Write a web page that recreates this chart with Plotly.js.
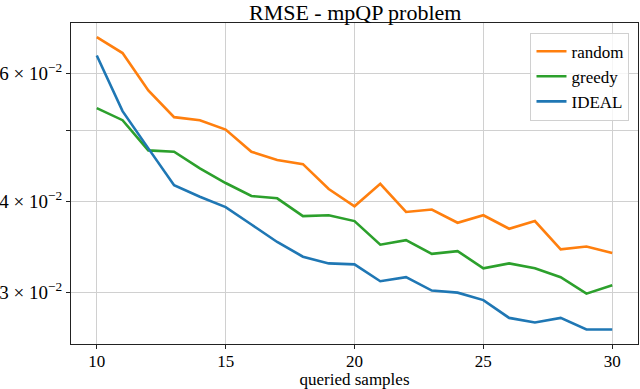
<!DOCTYPE html>
<html>
<head>
<meta charset="utf-8">
<script src="https://cdn.plot.ly/plotly-3.0.1.min.js"></script>
<style>
  html, body { margin: 0; padding: 0; background: #fff; }
  #chart { width: 640px; height: 389px; }
</style>
</head>
<body>
<div id="chart"></div>
<script>
// queried samples on the x axis
const samples = [10, 11, 12, 13, 14, 15, 16, 17, 18, 19, 20, 21, 22, 23, 24, 25, 26, 27, 28, 29, 30];

// RMSE values
const randomRmse = [0.0672, 0.0639, 0.0568, 0.0522, 0.0517, 0.0502, 0.0468, 0.0456, 0.0450, 0.0416, 0.0394,
                    0.0423, 0.0387, 0.0390, 0.0374, 0.0383, 0.0367, 0.0376, 0.0344, 0.0347, 0.0340];
const greedyRmse = [0.0537, 0.0517, 0.0470, 0.0468, 0.0444, 0.0424, 0.0407, 0.0404, 0.0382, 0.0383, 0.0376,
                    0.0349, 0.0354, 0.0339, 0.0342, 0.0324, 0.0329, 0.0324, 0.0315, 0.0299, 0.0307];
const idealRmse = [0.0634, 0.0532, 0.0473, 0.0421, 0.0406, 0.0393, 0.0372, 0.0352, 0.0336, 0.0329, 0.0328,
                   0.0311, 0.0315, 0.0302, 0.0300, 0.0293, 0.0277, 0.0273, 0.0277, 0.0267, 0.0267];

const yTickVals = [0.03, 0.04, 0.05, 0.06];
const yTickText = ['3 × 10<sup>−2</sup>', '4 × 10<sup>−2</sup>', '', '6 × 10<sup>−2</sup>'];

const serif = '"Liberation Serif", "Times New Roman", serif';

const traces = [
    {x: samples, y: randomRmse, name: 'random', type: 'scatter', mode: 'lines',
     line: {color: '#ff7f0e', width: 2.6}},
    {x: samples, y: greedyRmse, name: 'greedy', type: 'scatter', mode: 'lines',
     line: {color: '#2ca02c', width: 2.6}},
    {x: samples, y: idealRmse, name: 'IDEAL', type: 'scatter', mode: 'lines',
     line: {color: '#1f77b4', width: 2.6}}
];

const layout = {
    width: 640,
    height: 389,
    margin: {l: 71, r: 2, t: 23, b: 45},
    paper_bgcolor: '#fff',
    plot_bgcolor: '#fff',
    font: {family: serif, size: 17, color: '#000'},
    title: {text: 'RMSE - mpQP problem', font: {size: 22, family: serif}, x: 0.555, xanchor: 'center', y: 0.968, yanchor: 'middle'},
    xaxis: {
        range: [9, 31],
        tickvals: [10, 15, 20, 25, 30],
        ticks: 'outside', ticklen: 4, tickcolor: '#222',
        ticklabelstandoff: -2,
        showline: true, mirror: true, linecolor: '#222', linewidth: 1,
        showgrid: true, gridcolor: '#d0d0d0', gridwidth: 1,
        zeroline: false,
        tickfont: {size: 17, family: serif},
        title: {text: 'queried samples', font: {size: 17, family: serif}, standoff: 8}
    },
    yaxis: {
        type: 'log',
        range: [Math.log10(0.02551), Math.log10(0.07026)],
        tickvals: yTickVals,
        ticktext: yTickText,
        ticks: 'outside', ticklen: 4, tickcolor: '#222',
        showline: true, mirror: true, linecolor: '#222', linewidth: 1,
        showgrid: true, gridcolor: '#d0d0d0', gridwidth: 1,
        zeroline: false,
        tickfont: {size: 19, family: serif}
    },
    legend: {
        x: 0.985, xanchor: 'right', y: 0.97, yanchor: 'top',
        bgcolor: 'rgba(255,255,255,0.8)', bordercolor: '#d0d0d0', borderwidth: 1,
        font: {size: 17, family: serif}, tracegroupgap: 0
    },
    showlegend: true
};

Plotly.newPlot('chart', traces, layout, {displayModeBar: false, staticPlot: true});
</script>
</body>
</html>
